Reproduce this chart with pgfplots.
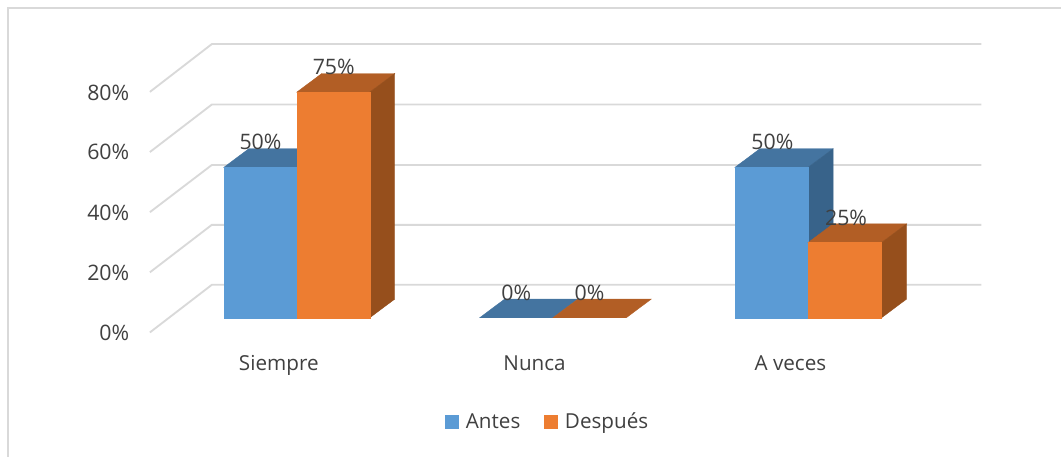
\documentclass[border=0pt]{standalone}
\usepackage{fontspec}
\setmainfont{Open Sans}
\usepackage{pgfplots}
\pgfplotsset{compat=1.18}
\definecolor{BlueF}{HTML}{5B9BD5}
\definecolor{BlueT}{HTML}{4474A0}
\definecolor{BlueS}{HTML}{38638A}
\definecolor{OrangeF}{HTML}{ED7D31}
\definecolor{OrangeT}{HTML}{B25E25}
\definecolor{OrangeS}{HTML}{964F1C}
\definecolor{GridC}{HTML}{D9D9D9}
\definecolor{TextC}{HTML}{404040}
\pgfplotsset{
  face/.style={fill=#1,draw=#1,line width=0.3pt,mark=none,forget plot},
  wall/.style={color=GridC,line width=1.4pt,mark=none,forget plot},
}
\begin{document}
\begin{tikzpicture}
\begin{axis}[
  scale only axis,
  width=796.5pt,height=342.75pt,
  xmin=0,xmax=1062,
  ymin=-46.18,ymax=105.65,
  clip=false,
  axis line style={draw=none},
  tick style={draw=none},
  xtick={279,535,791},
  xticklabels={Siempre,Nunca,A veces},
  ytick={-5.15,14.8,35,55,74.9},
  yticklabels={0\%,20\%,40\%,60\%,80\%},
  xticklabel style={anchor=base,text height=12pt,text depth=3pt,yshift=65pt},
  yticklabel style={anchor=east,xshift=100.5pt},
  xticklabel style={font=\fontsize{15.5}{18}\selectfont,color=TextC},
  yticklabel style={font=\fontsize{16}{18}\selectfont,color=TextC},
  legend style={
    at={(548.5/1062,35/457)},anchor=center,
    draw=none,fill=none,
    font=\fontsize{15.5}{18}\selectfont,text=TextC,
    legend columns=2,
    /tikz/every even column/.append style={column sep=16pt},
    /tikz/every odd column/.append style={column sep=3pt},
  },
  legend image code/.code={
    \fill[#1,draw=none] (0pt,-5.25pt) rectangle (10.5pt,5.25pt);
  },
]
% frame
\addplot[wall,line width=1.2pt] coordinates {(8,-46.18) (8,103) (1062,103)};
% back grid and side wall
\addplot[wall] coordinates {(150,-4.88) (212,10.96) (982,10.96)};
\addplot[wall] coordinates {(150,15.1) (212,30.9) (982,30.9)};
\addplot[wall] coordinates {(150,35.1) (212,50.8) (982,50.8)};
\addplot[wall] coordinates {(150,55.1) (212,70.9) (982,70.9)};
\addplot[wall] coordinates {(150,75.1) (212,91) (982,91)};

% Siempre, Antes 50
\addplot[face=BlueT] coordinates {(224,50) (297,50) (322,56.2) (249,56.2)} --cycle;
\addplot[face=BlueF] coordinates {(224,0) (297,0) (297,50) (224,50)} --cycle;
% Siempre, Despues 75
\addplot[face=OrangeT] coordinates {(297,75) (370,75) (395,81.2) (322,81.2)} --cycle;
\addplot[face=OrangeS] coordinates {(370,0) (395,6.2) (395,81.2) (370,75)} --cycle;
\addplot[face=OrangeF] coordinates {(297,0) (370,0) (370,75) (297,75)} --cycle;

% Nunca, 0 and 0
\addplot[face=BlueT] coordinates {(480,0) (553.3,0) (578.3,6.2) (505,6.2)} --cycle;
\addplot[face=OrangeT] coordinates {(553.3,0) (626.7,0) (651.7,6.2) (578.3,6.2)} --cycle;

% A veces, Antes 50
\addplot[face=BlueT] coordinates {(735.5,50) (808.7,50) (833.7,56.2) (760.5,56.2)} --cycle;
\addplot[face=BlueS] coordinates {(808.7,0) (833.7,6.2) (833.7,56.2) (808.7,50)} --cycle;
\addplot[face=BlueF] coordinates {(735.5,0) (808.7,0) (808.7,50) (735.5,50)} --cycle;
% A veces, Despues 25
\addplot[face=OrangeT] coordinates {(808.7,25) (882.2,25) (907.2,31.2) (833.7,31.2)} --cycle;
\addplot[face=OrangeS] coordinates {(882.2,0) (907.2,6.2) (907.2,31.2) (882.2,25)} --cycle;
\addplot[face=OrangeF] coordinates {(808.7,0) (882.2,0) (882.2,25) (808.7,25)} --cycle;

% value labels
\addplot[draw=none,mark=none,forget plot,
  point meta=explicit symbolic,
  nodes near coords,
  every node near coord/.append style={
    anchor=center,yshift=18.9pt,color=TextC,
    font=\fontsize{16}{18}\selectfont},
] coordinates {
  (260.7,50) [50\%]
  (334,75) [75\%]
  (516.7,0) [0\%]
  (590,0) [0\%]
  (773,50) [50\%]
  (846.7,25) [25\%]
};

\addlegendimage{fill=BlueF}
\addlegendentry{Antes}
\addlegendimage{fill=OrangeF}
\addlegendentry{Después}
\end{axis}
\end{tikzpicture}
\end{document}
